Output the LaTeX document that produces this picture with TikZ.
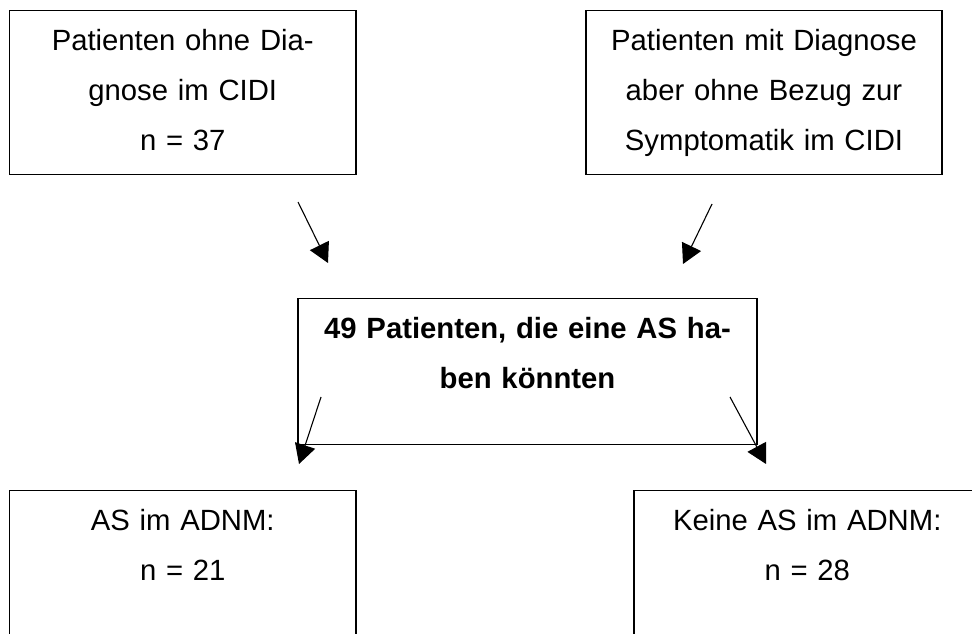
\documentclass[tikz,border=0pt]{standalone}
\usepackage{fontspec}
\setmainfont{Liberation Sans}
\usetikzlibrary{arrows.meta}
\tikzset{
  kasten/.style={draw,line width=0.5pt,inner sep=0pt,align=center,anchor=north,
    text height=16.4pt,font=\fontsize{12pt}{20.5pt}\selectfont},
  pfeil/.style={line width=0.45pt,-{Triangle[length=8pt,width=8.6pt]}}
}
\begin{document}
\begin{tikzpicture}[x=0.41pt,y=-0.41pt]
\useasboundingbox (0,0) rectangle (972,633);
\clip (0,0) rectangle (972,633);
\node[kasten,text width=142.1pt,text depth=50.8pt] (ohne) at (182.75,10)
   {Patienten ohne Dia-\\gnose im CIDI\\n = 37};
\node[kasten,text width=146pt,text depth=50.8pt] (mit) at (764,10)
   {Patienten mit Diagnose\\aber ohne Bezug zur\\Symptomatik im CIDI};
\node[kasten,text width=188.2pt,text depth=43.5pt,font=\fontsize{12pt}{20.5pt}\selectfont\bfseries] (mitte) at (527.5,298)
   {49 Patienten, die eine AS ha-\\ben k\"onnten};
\node[kasten,text width=142.1pt,text depth=50.8pt] (as) at (182.75,490)
   {AS im ADNM:\\n = 21};
\node[kasten,text width=142.1pt,text depth=50.8pt] (keine) at (807.25,490)
   {Keine AS im ADNM:\\n = 28};
\coordinate (o1) at (298,202);
\coordinate (o2) at (328,263);
\coordinate (m1) at (712,204);
\coordinate (m2) at (683,264);
\coordinate (l1) at (321,397);
\coordinate (l2) at (299,464);
\coordinate (k1) at (730,397);
\coordinate (k2) at (766,464);
\foreach \a/\b in {o1/o2,m1/m2,l1/l2,k1/k2}
   \draw[pfeil] (\a) -- (\b);
\end{tikzpicture}
\end{document}
